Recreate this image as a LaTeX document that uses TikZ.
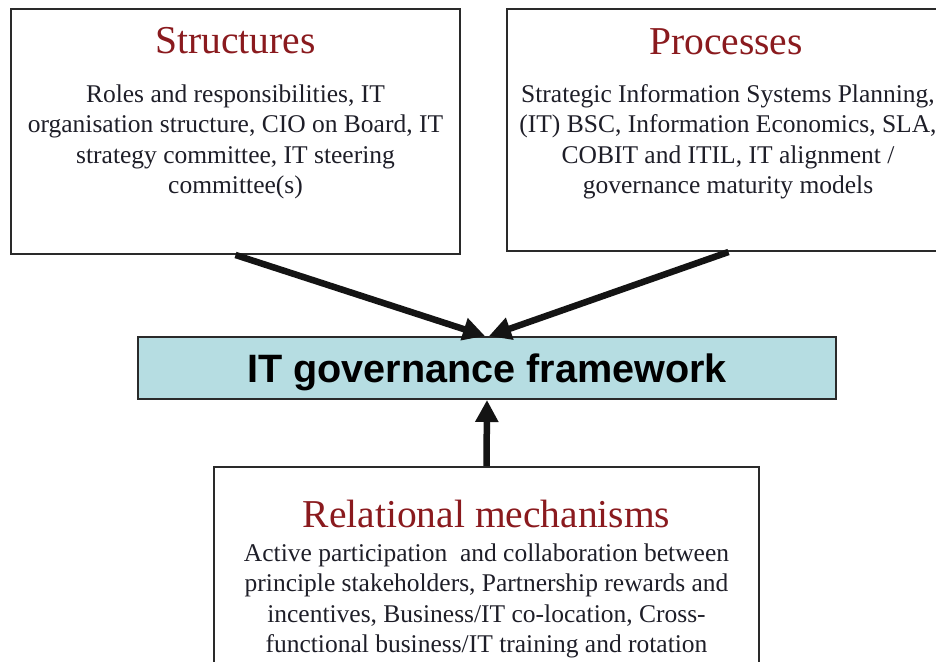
\documentclass[tikz,border=0pt]{standalone}
\usepackage{fontspec}
\setmainfont{Liberation Serif}
\newfontfamily\arialfont{Liberation Sans}
\usetikzlibrary{arrows.meta}
\definecolor{titlered}{HTML}{8A1A1E}
\definecolor{bodyink}{HTML}{1E1E28}
\definecolor{fwfill}{HTML}{B6DDE2}
\definecolor{boxline}{HTML}{2A2A2A}
\begin{document}
\begin{tikzpicture}[x=1pt,y=-1pt,
  panel/.style={draw=boxline, line width=2pt, fill=white, inner sep=0pt},
  titletext/.style={text=titlered, font=\fontsize{39.5}{44}\selectfont, inner sep=0pt, anchor=base},
  bodytext/.style={text=bodyink, font=\fontsize{25.5}{30.5}\selectfont, align=center, inner sep=0pt},
  fwtext/.style={text=black, font=\arialfont\bfseries\fontsize{39.6}{44}\selectfont, inner sep=0pt, anchor=base},
  flow/.style={line width=6.5pt, draw=black!92, -{Triangle[length=22pt,width=22pt]}}
]
\useasboundingbox (0,0) rectangle (936,661);
\fill[white] (0,0) rectangle (936,661);

% boxes
\node[panel, minimum width=449pt, minimum height=245pt] (s) at (235.5,131.5) {};
\node[panel, minimum width=443pt, minimum height=242pt] (p) at (728.5,130) {};
\node[panel, fill=fwfill, minimum width=698pt, minimum height=62pt] (f) at (487,368) {};
\node[panel, minimum width=545pt, minimum height=240pt] (r) at (486.5,587) {};

% texts
\node[titletext] (stitle) at (235.5,54) {Structures};
\node[bodytext] (sbody) at (235.5,142) {Roles and responsibilities, IT\\organisation structure, CIO on Board, IT\\strategy committee, IT steering\\committee(s)};

\node[titletext] (ptitle) at (726,55) {Processes};
\node[bodytext] (pbody) at (728,142) {Strategic Information Systems Planning,\\(IT) BSC, Information Economics, SLA,\\COBIT and ITIL, IT alignment /\\governance maturity models};

\node[fwtext] (ftext) at (487,382) {IT governance framework};

\node[titletext] (rtitle) at (486.5,527) {Relational mechanisms};
\node[bodytext] (rbody) at (486.5,601) {Active participation\ \ and collaboration between\\principle stakeholders, Partnership rewards and\\incentives, Business/IT co-location, Cross-\\functional business/IT training and rotation};

% connectors
\draw[flow] (s.south) -- ([xshift=-2pt]f.north);
\draw[flow] (p.south) -- ([xshift=2pt]f.north);
\draw[flow] (r.north) -- (f.south);
\end{tikzpicture}
\end{document}
